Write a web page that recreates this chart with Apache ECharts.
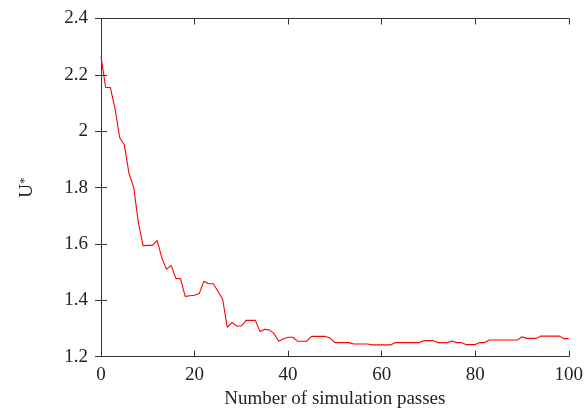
<!DOCTYPE html>
<html>
<head>
<meta charset="utf-8">
<script src="https://cdn.jsdelivr.net/npm/echarts@6/dist/echarts.min.js"></script>
<style>html,body{margin:0;padding:0;background:#fff}#c{width:586px;height:414px}</style>
</head>
<body>
<div id="c"></div>
<script>
const passes = Array.from({length: 101}, (_, i) => i);
const uStar = [
  2.265, 2.155, 2.155, 2.080, 1.977, 1.951, 1.849, 1.800, 1.674, 1.594,
  1.595, 1.595, 1.613, 1.551, 1.510, 1.524, 1.478, 1.477, 1.414, 1.416,
  1.418, 1.424, 1.468, 1.459, 1.459, 1.432, 1.404, 1.304, 1.322, 1.309,
  1.309, 1.329, 1.329, 1.329, 1.289, 1.297, 1.295, 1.282, 1.255, 1.264,
  1.269, 1.269, 1.255, 1.255, 1.255, 1.272, 1.272, 1.272, 1.272, 1.266,
  1.250, 1.250, 1.250, 1.250, 1.245, 1.245, 1.245, 1.245, 1.242, 1.242,
  1.242, 1.242, 1.242, 1.250, 1.250, 1.250, 1.250, 1.250, 1.250, 1.257,
  1.257, 1.257, 1.250, 1.250, 1.250, 1.256, 1.250, 1.250, 1.243, 1.243,
  1.243, 1.250, 1.250, 1.259, 1.259, 1.259, 1.259, 1.259, 1.259, 1.259,
  1.271, 1.265, 1.265, 1.265, 1.273, 1.273, 1.273, 1.273, 1.273, 1.264,
  1.264
];
const xTicks = [0, 20, 40, 60, 80, 100];
const yTicks = [1.2, 1.4, 1.6, 1.8, 2.0, 2.2, 2.4];

const font = 'Liberation Serif';
const axisColor = '#333';
const chart = echarts.init(document.getElementById('c'), null, {renderer: 'canvas'});
const baseAxis = {
  axisLine: {show: true, lineStyle: {color: axisColor, width: 1}},
  axisTick: {show: true, inside: true, length: 6, lineStyle: {color: axisColor}},
  splitLine: {show: false}
};
chart.setOption({
  animation: false,
  grid: {left: 101, right: 17, top: 18.5, bottom: 57.3, containLabel: false},
  xAxis: [
    Object.assign({}, baseAxis, {
      type: 'value', min: 0, max: 100, interval: 20, position: 'bottom',
      axisLabel: {fontFamily: font, fontSize: 19, color: '#222', margin: 9,
        formatter: v => xTicks.includes(v) ? String(v) : ''},
      name: 'Number of simulation passes', nameLocation: 'middle', nameGap: 31,
      nameTextStyle: {fontFamily: font, fontSize: 19, color: '#222'}
    }),
    Object.assign({}, baseAxis, {
      type: 'value', min: 0, max: 100, interval: 20, position: 'top',
      axisLabel: {show: false}
    })
  ],
  yAxis: [
    Object.assign({}, baseAxis, {
      type: 'value', min: 1.2, max: 2.4, interval: 0.2, position: 'left',
      axisLabel: {fontFamily: font, fontSize: 19, color: '#222', margin: 13,
        formatter: v => { const t = yTicks.find(k => Math.abs(k - v) < 1e-6); return t === undefined ? '' : (Math.abs(t - 2) < 1e-6 ? '2' : String(+t.toFixed(1))); }},
      name: '{u|U}{s|*}', nameLocation: 'middle', nameGap: 64, nameRotate: 90,
      nameTextStyle: {fontFamily: font, color: '#222',
        rich: {u: {fontFamily: font, fontSize: 19, color: '#222', verticalAlign: 'bottom'},
               s: {fontFamily: font, fontSize: 13, color: '#222', verticalAlign: 'top'}}}
    }),
    Object.assign({}, baseAxis, {
      type: 'value', min: 1.2, max: 2.4, interval: 0.2, position: 'right',
      axisLabel: {show: false}
    })
  ],
  series: [{
    type: 'line',
    data: passes.map((p, i) => [p, uStar[i]]),
    showSymbol: false,
    lineStyle: {color: '#ff0000', width: 1.1},
    xAxisIndex: 0, yAxisIndex: 0
  }]
});
</script>
</body>
</html>
